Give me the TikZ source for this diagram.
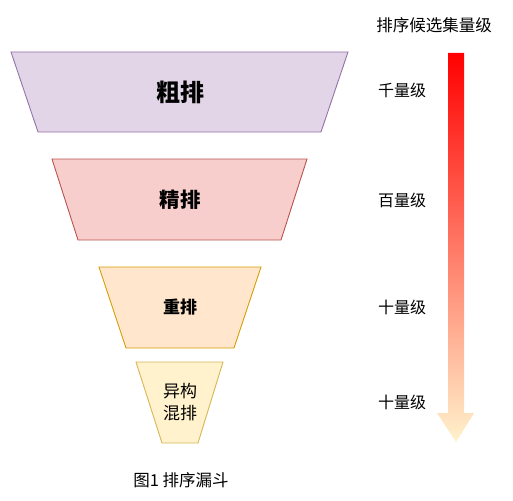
\documentclass[tikz,border=0pt]{standalone}
\usepackage{fontspec}
\setmainfont{Noto Sans CJK SC}
\usetikzlibrary{shadings}
\definecolor{pf}{HTML}{E1D5E7}\definecolor{ps}{HTML}{9673A6}
\definecolor{rf}{HTML}{F8CECC}\definecolor{rs}{HTML}{B85450}
\definecolor{of}{HTML}{FFE6CC}\definecolor{os}{HTML}{D79B00}
\definecolor{yf}{HTML}{FFF2CC}\definecolor{ys}{HTML}{D6B656}
\definecolor{arrtop}{HTML}{FF0000}
\tikzset{trap/.style={line width=0.9pt, line join=miter},
  lbl/.style={font=\fontsize{16}{18}\selectfont, inner sep=0pt}}
\begin{document}
\begin{tikzpicture}[x=1pt,y=-1pt]
\useasboundingbox (0,0) rectangle (513,500);
% funnel layers
\draw[trap, fill=pf, draw=ps] (11,52) -- (348,52) -- (321,132) -- (38,132) -- cycle;
\node[inner sep=0pt, font=\fontsize{24}{26}\selectfont\bfseries] (l1) at (180,92) {粗排};
\draw[trap, fill=rf, draw=rs] (52,159) -- (307,159) -- (281,240) -- (78,240) -- cycle;
\node[inner sep=0pt, font=\fontsize{20.5}{22}\selectfont\bfseries] (l2) at (180,200) {精排};
\draw[trap, fill=of, draw=os] (99,267) -- (261,267) -- (234,348) -- (126,348) -- cycle;
\node[inner sep=0pt, font=\fontsize{17}{19}\selectfont\bfseries] (l3) at (180,307) {重排};
\draw[trap, fill=yf, draw=ys] (136,362) -- (223,362) -- (198,443) -- (162,443) -- cycle;
\node[inner sep=0pt, align=center, font=\fontsize{17}{22}\selectfont] (l4) at (180,402) {异构\\混排};
% caption
\node[lbl, font=\fontsize{16.5}{18}\selectfont] (cap) at (181,480) {图1 排序漏斗};
% arrow
\shade[top color=arrtop, bottom color=yf, shading angle=0]
  (448,53) -- (464,53) -- (464,413) -- (474,413) -- (456,442) -- (437,413) -- (448,413) -- cycle;
\node[lbl, font=\fontsize{16.5}{18}\selectfont] (title) at (434,25) {排序候选集量级};
\node[lbl] (q1) at (402,90) {千量级};
\node[lbl] (q2) at (402,200) {百量级};
\node[lbl] (q3) at (402,307) {十量级};
\node[lbl] (q4) at (402,402) {十量级};
\end{tikzpicture}
\end{document}
